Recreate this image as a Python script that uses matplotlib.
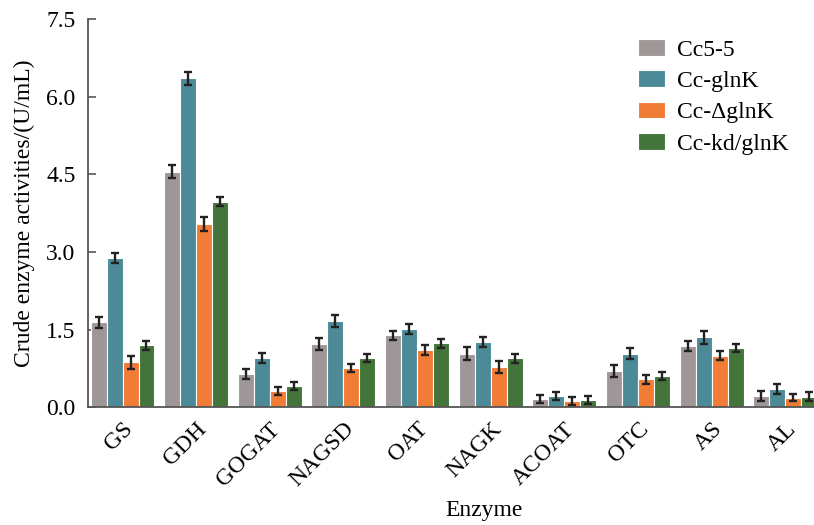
import numpy as np
import matplotlib
matplotlib.use("Agg")
import matplotlib.pyplot as plt
from matplotlib.transforms import ScaledTranslation

plt.rcParams['font.family'] = ['Liberation Serif', 'DejaVu Serif']

# data
enzymes = ['GS', 'GDH', 'GOGAT', 'NAGSD', 'OAT', 'NAGK', 'ACOAT', 'OTC', 'AS', 'AL']
strains = ['Cc5-5', 'Cc-glnK', 'Cc-\u0394glnK', 'Cc-kd/glnK']

cc55 = [1.64, 4.55, 0.64, 1.22, 1.39, 1.04, 0.16, 0.70, 1.19, 0.22]
cc_glnk = [2.89, 6.35, 0.95, 1.67, 1.51, 1.26, 0.22, 1.04, 1.35, 0.35]
cc_dglnk = [0.87, 3.54, 0.32, 0.76, 1.11, 0.78, 0.12, 0.54, 1.00, 0.19]
cc_kd = [1.20, 3.97, 0.41, 0.95, 1.24, 0.95, 0.14, 0.61, 1.15, 0.21]

cc55_err = [0.11, 0.13, 0.10, 0.12, 0.09, 0.13, 0.08, 0.11, 0.10, 0.10]
cc_glnk_err = [0.10, 0.12, 0.10, 0.12, 0.10, 0.09, 0.07, 0.11, 0.13, 0.10]
cc_dglnk_err = [0.12, 0.13, 0.08, 0.08, 0.10, 0.12, 0.08, 0.09, 0.08, 0.07]
cc_kd_err = [0.09, 0.09, 0.08, 0.08, 0.09, 0.09, 0.08, 0.08, 0.08, 0.08]

colors = ['#9F9797', '#4D8A97', '#F07C36', '#43743A']

series = [cc55, cc_glnk, cc_dglnk, cc_kd]
errors = [cc55_err, cc_glnk_err, cc_dglnk_err, cc_kd_err]

fig = plt.figure(figsize=(8.14, 5.25), dpi=100)
# the original is cropped on the right, so the axes run to the edge
ax = fig.add_axes([0.108, 0.224, 0.892, 0.74])

x = np.arange(len(enzymes))
w = 0.217
for i, (vals, errs) in enumerate(zip(series, errors)):
    ax.bar(x + (i - 1.5) * w, vals, width=w, color=colors[i], edgecolor='white',
           linewidth=0.8, label=strains[i], zorder=2)
    ax.errorbar(x + (i - 1.5) * w, vals, yerr=errs, fmt='none', ecolor='#222222',
                elinewidth=1.7, capsize=3, capthick=1.7, zorder=3)

ax.set_xlim(-0.47, 9.39)
ax.set_ylim(0, 7.5)
ax.set_yticks([0, 1.5, 3.0, 4.5, 6.0, 7.5])
ax.set_yticklabels(['0.0', '1.5', '3.0', '4.5', '6.0', '7.5'])
ax.set_xticks(x)
ax.set_xticklabels(enzymes, rotation=45, ha='right', rotation_mode='anchor')
shift = ScaledTranslation(0.08, 0.0, fig.dpi_scale_trans)
for lab in ax.get_xticklabels():
    lab.set_transform(lab.get_transform() + shift)

ax.spines['top'].set_visible(False)
ax.spines['right'].set_visible(False)
for s in ['left', 'bottom']:
    ax.spines[s].set_color('#555555')
    ax.spines[s].set_linewidth(1.3)
ax.tick_params(axis='y', labelsize=17, direction='in', length=6, width=1.2,
               color='#555555', pad=9)
ax.tick_params(axis='x', labelsize=17, direction='in', length=3, width=1.0,
               color='#555555', pad=8)

ax.set_ylabel('Crude enzyme activities/(U/mL)', fontsize=17)
ax.yaxis.set_label_coords(-0.073, 0.5)
ax.set_xlabel('Enzyme', fontsize=17)
ax.xaxis.set_label_coords(0.545, -0.238)

ax.legend(loc='upper left', bbox_to_anchor=(638 / 814, 1 - 39 / 525),
          bbox_transform=fig.transFigure, frameon=False, fontsize=17,
          borderpad=0, borderaxespad=0, handlelength=1.15, handleheight=0.7,
          labelspacing=0.42, handletextpad=0.5)

fig.savefig('out.png', dpi=100)
